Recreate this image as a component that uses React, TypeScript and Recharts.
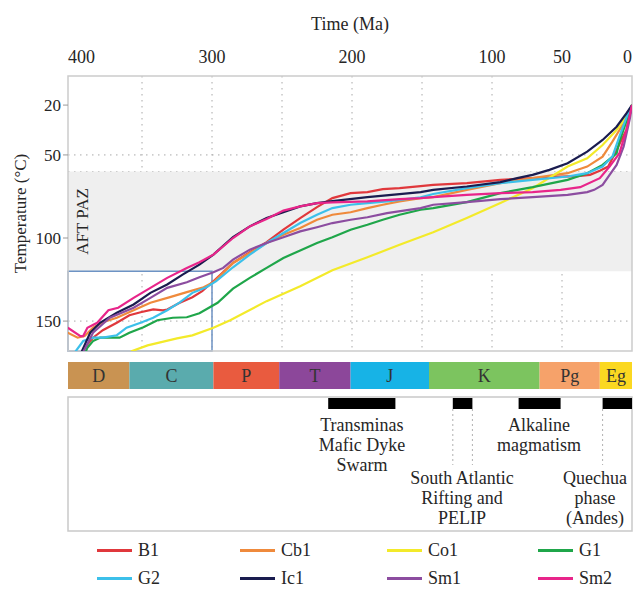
import React from 'react';
import {
  LineChart,
  Line,
  XAxis,
  YAxis,
  CartesianGrid,
  ReferenceArea,
  ReferenceLine,
  Legend,
  ComposedChart,
  Scatter,
} from 'recharts';

const FONT = "'Liberation Serif', 'Times New Roman', serif";
const TEXT = '#262626';

// ---------- data ----------
const AGE_MAX = 402.86; // left edge of time axis (Ma)
const TEMP_MIN = 2.5;
const TEMP_MAX = 168;

const TOP_TICKS = [400, 300, 200, 100, 50, 0];
const GRID_AGES = [350, 300, 250, 200, 150, 100, 50];
const TEMP_TICKS = [20, 50, 100, 150];
const GRID_TEMPS = [50, 60, 100, 150];
const PAZ = [60, 120];
const BOX = { ageFrom: 300, tempFrom: 120 };

type Pt = [number, number];

const B1: Pt[] = [[394,172],[392,167],[385,160],[378,155.5],[368,151],[359,146.5],[351,144.7],[342,143],[335,143.5],[332,143],[323,139],[314,135.6],[307,132],[299,126],[285,115],[273,108.6],[261,102.5],[249,95],[237,88],[225,81.4],[214,76],[201,73],[189,72.4],[178,70.6],[166,70],[151,68.8],[142,68],[118,67],[94,65],[71,64],[51,63],[39,62.8],[30,62],[23,59.5],[17,57],[11,47],[4,35],[0,20]];
const Cb1: Pt[] = [[403,157],[396,160],[391,159],[385,154],[378,150.7],[368,148],[356,143.5],[344,139],[330,135.6],[318,132.6],[306,129.6],[299,126.6],[292,121],[285,115],[273,109],[261,103],[249,98],[237,94],[225,89],[214,86],[201,84.5],[189,82],[178,80],[166,78],[151,76],[142,75.4],[118,71],[94,67],[71,64],[46,61],[32,57],[21,51],[14,42],[6,31],[0,20]];
const Co1: Pt[] = [[360,170],[357,168],[346,164.6],[337,162.8],[325,160.4],[314,158.6],[299,154],[287,149.5],[261,138],[237,129],[214,119.4],[189,111.6],[166,104],[142,96.5],[118,88],[94,79],[71,70],[46,57],[32,52],[21,44],[11,35],[4,27],[0,20]];
const G1: Pt[] = [[392,172],[389,166],[385,162],[380,160],[373,160],[366,160],[359,157],[349,153.7],[339,149.5],[328,148],[318,147.7],[309,145.3],[296,139],[285,130.5],[273,124],[261,118],[249,112],[237,107.5],[225,103],[214,99.5],[201,95],[189,92],[178,89],[166,86],[151,83],[142,82],[118,78.4],[94,73],[71,69.4],[46,65],[32,61],[21,56],[11,49],[9,42],[2,25],[0,20]];
const G2: Pt[] = [[399,170],[392,162],[385,160],[378,160],[368,158.5],[361,154],[351,151],[342,148],[332,143.5],[323,138.7],[314,133],[304,129.6],[297,126],[285,117.6],[273,110],[261,103],[249,97],[237,91],[225,86],[214,82],[201,80],[189,79],[175,78],[166,77],[151,75.5],[142,73.5],[118,70],[94,67],[71,65],[46,63],[32,61],[21,57],[14,51],[9,39],[2,23],[0,20]];
const Ic1: Pt[] = [[395,172],[387,157],[380,151],[368,145],[356,140],[344,133],[332,128],[321,122],[309,116],[299,110],[285,99.5],[273,93],[261,88],[249,84.5],[237,81],[225,79],[214,77.8],[189,75.4],[166,73.6],[151,72.4],[142,71],[118,69],[94,66.4],[82,64],[71,62],[59,59],[46,55],[32,48],[21,41],[11,33],[4,25],[0,20]];
const Sm1: Pt[] = [[394,172],[385,157],[373,148],[356,142],[344,136],[332,130],[318,126.6],[309,123.6],[299,120.6],[292,118],[285,113],[273,107],[261,103],[249,99.5],[237,96],[225,93.5],[214,91],[201,89],[189,87.5],[175,85],[151,82],[142,80],[118,78.4],[94,76.6],[71,75.4],[46,74],[32,72.4],[27,71],[21,68],[16,62],[11,56],[6,45],[1.5,28],[0,20]];
const Sm2: Pt[] = [[403,154],[394,159],[392,159],[389,154],[382,151],[374,143.5],[367,142],[356,136],[344,130],[332,124],[318,118],[309,114.6],[299,110],[285,100],[273,93],[261,88.5],[249,83.5],[237,81],[225,79],[214,78.5],[189,78],[166,76.6],[151,76],[142,75.4],[118,74],[94,73],[71,72.4],[51,71],[37,69.4],[23,64],[16,57],[9,49],[4,35],[0,20]];

const SERIES_NAMES = ['B1', 'Cb1', 'Co1', 'G1', 'G2', 'Ic1', 'Sm1', 'Sm2'];
const SERIES_VALUES = [B1, Cb1, Co1, G1, G2, Ic1, Sm1, Sm2];
const SERIES_COLORS = ['#e0383c', '#ef8a3c', '#f3ea2a', '#1fa64a', '#3cc0ea', '#1a1c4f', '#8c4da0', '#e8258a'];

const PERIOD_NAMES = ['D', 'C', 'P', 'T', 'J', 'K', 'Pg', 'Eg'];
const PERIOD_STARTS = [419, 359, 299, 252, 201, 145, 66, 23];
const PERIOD_ENDS = [359, 299, 252, 201, 145, 66, 23, 0];
const PERIOD_COLORS = ['#c99352', '#5aabad', '#e95b3f', '#8c479a', '#17b3e6', '#7cc45f', '#f6a26a', '#fbd821'];

const EVENT_LINES = [
  ['Transminas', 'Mafic Dyke', 'Swarm'],
  ['South Atlantic', 'Rifting and', 'PELIP'],
  ['Alkaline', 'magmatism'],
  ['Quechua', 'phase', '(Andes)'],
];
const EVENT_STARTS = [217, 128, 81, 21];
const EVENT_ENDS = [169, 114, 51, 0];
const EVENT_LABEL_AGES = [192.9, 121.4, 66.4, 26.4];
const EVENT_GUIDES = [[], [128, 114], [], [21]];

// ---------- layout (lower panel rows, top to bottom) ----------
const ROW_MAX = 170;
const PERIOD_ROW = [0, 27];
const PANEL_ROW = [35, 169];
const BAR_ROW = [36, 47];
const GUIDE_END = 103;
const LABEL_ROWS = [63, 116, 63, 116];
const LINE_GAP = 20;

const LEGEND_COLS = [97, 240, 387, 538];
const LEGEND_ROWS = [20, 48];

const toData = (pts: Pt[]) => pts.map(([age, t]) => ({ age, t }));

const TopTick = (props: any) => {
  const { x, y, payload, index } = props;
  const first = index === 0;
  const last = index === TOP_TICKS.length - 1;
  return (
    <text
      x={x}
      y={y}
      dx={first ? -4 : 0}
      textAnchor={first ? 'start' : last ? 'end' : 'middle'}
      fontSize={18}
      fill={TEXT}
      fontFamily={FONT}
    >
      {payload.value}
    </text>
  );
};

const pazLabel = (props: any) => {
  const vb = props.viewBox;
  const x = vb.x + 15;
  const y = vb.y + vb.height / 2;
  return (
    <text x={x} y={y} transform={`rotate(-90 ${x} ${y})`} textAnchor="middle" dominantBaseline="central" fontSize={17} fill={TEXT} fontFamily={FONT}>
      AFT PAZ
    </text>
  );
};

const yLabel = (props: any) => {
  const vb = props.viewBox;
  const x = 20;
  const y = vb.y + vb.height / 2;
  return (
    <text x={x} y={y} transform={`rotate(-90 ${x} ${y})`} textAnchor="middle" dominantBaseline="central" fontSize={17} fill={TEXT} fontFamily={FONT}>
      Temperature (°C)
    </text>
  );
};

const LegendContent = () => (
  <div style={{ position: 'relative', width: 633, height: 60 }}>
    {SERIES_NAMES.map((n, i) => (
      <div
        key={n}
        style={{
          position: 'absolute',
          left: LEGEND_COLS[i % 4],
          top: LEGEND_ROWS[Math.floor(i / 4)] - 11,
          height: 22,
          display: 'flex',
          alignItems: 'center',
          whiteSpace: 'nowrap',
        }}
      >
        <span style={{ display: 'inline-block', width: 35, height: 3, background: SERIES_COLORS[i] }} />
        <span style={{ marginLeft: 6, fontSize: 18, fontFamily: FONT, color: TEXT, lineHeight: '22px' }}>{n}</span>
      </div>
    ))}
  </div>
);

const EventLabel = (props: any) => {
  const { cx, cy, payload } = props;
  return (
    <text x={cx} y={cy} textAnchor="middle" fontSize={18} fill={TEXT} fontFamily={FONT}>
      {payload.lines.map((l: string, i: number) => (
        <tspan key={i} x={cx} y={cy + i * LINE_GAP} dy="0.35em">
          {l}
        </tspan>
      ))}
    </text>
  );
};

export default function App() {
  const eventLabels = EVENT_LINES.map((lines, i) => ({ age: EVENT_LABEL_AGES[i], row: LABEL_ROWS[i], lines }));
  return (
    <div style={{ position: 'absolute', left: 0, top: 0, width: 633, height: 590, background: '#fff' }}>
      <LineChart width={633} height={590} margin={{ top: 46, right: 1, bottom: 179, left: 0 }}>
        <XAxis
          type="number"
          dataKey="age"
          orientation="top"
          domain={[0, AGE_MAX]}
          reversed
          allowDataOverflow
          ticks={TOP_TICKS}
          interval={0}
          height={30}
          axisLine={false}
          tickLine={false}
          tickMargin={7}
          tick={TopTick}
          label={{ value: 'Time (Ma)', position: 'top', offset: 16, fontSize: 18, fill: TEXT, fontFamily: FONT }}
        />
        <YAxis
          type="number"
          domain={[TEMP_MIN, TEMP_MAX]}
          reversed
          allowDataOverflow
          ticks={TEMP_TICKS}
          interval={0}
          width={68}
          axisLine={false}
          tickLine={{ stroke: '#999' }}
          tickSize={5}
          tick={{ fontSize: 17, fill: TEXT, fontFamily: FONT }}
          label={yLabel}
        />
        <ReferenceArea x1={0} x2={AGE_MAX} y1={PAZ[0]} y2={PAZ[1]} fill="#efefef" fillOpacity={1} stroke="none" label={pazLabel} />
        <CartesianGrid
          verticalValues={GRID_AGES}
          horizontalValues={GRID_TEMPS}
          stroke="#a8a8a8"
          strokeDasharray="1.5 4.5"
          fill="none"
        />
        {SERIES_NAMES.map((n, i) => (
          <Line
            key={n}
            name={n}
            data={toData(SERIES_VALUES[i])}
            dataKey="t"
            type="linear"
            stroke={SERIES_COLORS[i]}
            strokeWidth={2.2}
            dot={false}
            isAnimationActive={false}
          />
        ))}
        <ReferenceArea x1={BOX.ageFrom} x2={AGE_MAX} y1={BOX.tempFrom} y2={TEMP_MAX} fill="none" stroke="#6d93c4" strokeWidth={1.5} />
        <ReferenceArea x1={0} x2={AGE_MAX} y1={TEMP_MIN} y2={TEMP_MAX} fill="none" stroke="#cccccc" strokeWidth={1.5} />
        <Legend content={LegendContent} wrapperStyle={{ left: 0, top: 530, width: 633, height: 60 }} />
      </LineChart>

      <div style={{ position: 'absolute', left: 0, top: 355 }}>
        <ComposedChart width={633} height={180} margin={{ top: 7, right: 1, bottom: 3, left: 68 }}>
          <XAxis type="number" dataKey="age" domain={[0, AGE_MAX]} reversed allowDataOverflow hide />
          <YAxis type="number" dataKey="row" domain={[0, ROW_MAX]} reversed allowDataOverflow hide />
          {PERIOD_NAMES.map((p, i) => (
            <ReferenceArea
              key={p}
              x1={Math.min(PERIOD_STARTS[i], AGE_MAX)}
              x2={PERIOD_ENDS[i]}
              y1={PERIOD_ROW[0]}
              y2={PERIOD_ROW[1]}
              fill={PERIOD_COLORS[i]}
              fillOpacity={1}
              stroke="none"
              label={{ value: p, position: 'center', fontSize: 18, fill: '#333', fontFamily: FONT }}
            />
          ))}
          <ReferenceArea x1={0} x2={AGE_MAX} y1={PANEL_ROW[0]} y2={PANEL_ROW[1]} fill="#fff" fillOpacity={1} stroke="#c9c9c9" strokeWidth={1.5} />
          {EVENT_STARTS.map((s, i) => (
            <ReferenceArea key={'ev' + i} x1={s} x2={EVENT_ENDS[i]} y1={BAR_ROW[0]} y2={BAR_ROW[1]} fill="#000" fillOpacity={1} stroke="none" />
          ))}
          {EVENT_GUIDES.flat().map((g, i) => (
            <ReferenceLine
              key={'g' + i}
              segment={[{ x: g, y: BAR_ROW[1] }, { x: g, y: GUIDE_END }]}
              stroke="#b0b0b0"
              strokeDasharray="2 3"
            />
          ))}
          <Scatter data={eventLabels} dataKey="row" shape={EventLabel} isAnimationActive={false} />
        </ComposedChart>
      </div>
    </div>
  );
}
